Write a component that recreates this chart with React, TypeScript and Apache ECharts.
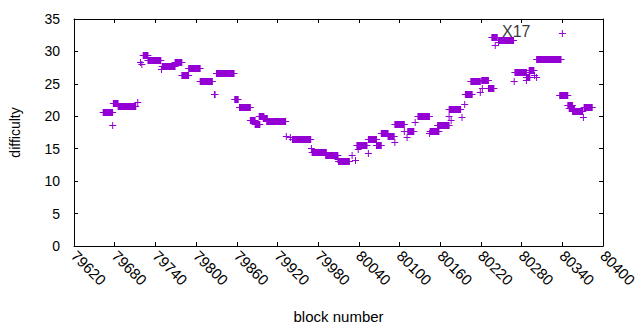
import React, { useEffect, useRef } from "react";
import * as echarts from "echarts";

// Runs of blocks sharing one difficulty value (single blocks have start == end)
const runStart = [
  79663, 79677, 79678, 79685, 79714, 79718, 79720, 79722, 79729, 79749,
  79750, 79769, 79779, 79789, 79806, 79827, 79830, 79857, 79864, 79880,
  79887, 79893, 79899, 79904, 79933, 79939, 79942, 79970, 79971, 79991,
  80009, 80010, 80030, 80035, 80037, 80039, 80054, 80054, 80066, 80073,
  80083, 80093, 80093, 80107, 80111, 80112, 80123, 80127, 80144, 80145,
  80156, 80173, 80176, 80173, 80192, 80196, 80197, 80205, 80219, 80222,
  80221, 80231, 80236, 80241, 80246, 80246, 80269, 80270, 80287, 80287,
  80291, 80299, 80302, 80302, 80340, 80336, 80348, 80350, 80355, 80371,
  80372,
];
const runEnd = [
  79677, 79677, 79685, 79711, 79714, 79718, 79720, 79729, 79748, 79749,
  79769, 79779, 79789, 79806, 79824, 79828, 79856, 79862, 79880, 79887,
  79894, 79900, 79905, 79932, 79933, 79939, 79969, 79970, 79992, 80009,
  80009, 80026, 80030, 80035, 80052, 80039, 80054, 80066, 80073, 80083,
  80092, 80093, 80107, 80107, 80111, 80121, 80123, 80144, 80144, 80158,
  80173, 80173, 80176, 80190, 80192, 80196, 80207, 80219, 80219, 80222,
  80231, 80239, 80244, 80241, 80246, 80268, 80269, 80287, 80287, 80292,
  80298, 80299, 80302, 80338, 80340, 80348, 80355, 80358, 80370, 80371,
  80384,
];
const runDifficulty = [
  20.7, 18.6, 22.1, 21.6, 22.2, 28.4, 28.0, 29.4, 28.7, 27.3,
  27.7, 28.3, 26.3, 27.4, 25.45, 23.5, 26.6, 22.6, 21.4, 19.5,
  18.85, 20.1, 19.7, 19.2, 17.0, 16.8, 16.5, 15.1, 14.5, 14.05,
  13.4, 13.1, 14.05, 13.3, 15.5, 15.0, 14.35, 16.5, 15.5, 17.45,
  17.0, 16.1, 18.85, 17.8, 16.8, 17.8, 19.1, 20.1, 17.45, 17.8,
  18.7, 20.1, 19.5, 21.2, 19.9, 21.9, 23.5, 25.5, 23.7, 24.3,
  25.65, 24.3, 32.2, 31.0, 31.5, 31.7, 25.4, 26.85, 25.65, 26.0,
  27.15, 26.3, 26.1, 28.9, 32.9, 23.35, 21.8, 21.3, 20.85, 19.9,
  21.4,
];

const labelText = ["X17"];
const labelPos = [[80251, 33]];

const xMin = 79620;
const xMax = 80400;
const xStep = 60;
const yMin = 0;
const yMax = 35;
const yStep = 5;

const COLOR = "#9400D3";
const FONT = "'Liberation Sans', Arial, sans-serif";

export default function App() {
  const ref = useRef<HTMLDivElement>(null);
  useEffect(() => {
    if (!ref.current) return;
    const chart = echarts.init(ref.current, undefined, { renderer: "svg" });
    const data = runStart.map((s, i) => [s, runEnd[i], runDifficulty[i]]);
    const axisLine = { show: true, onZero: false, lineStyle: { color: "#000", width: 1 } };
    const tick = { show: true, inside: true, length: 4, lineStyle: { color: "#000", width: 1 } };
    const option: any = {
      animation: false,
      backgroundColor: "#fff",
      grid: { left: 74, right: 31, top: 19, bottom: 84, containLabel: false },
      xAxis: [
        {
          type: "value",
          min: xMin,
          max: xMax,
          interval: xStep,
          position: "bottom",
          axisLine,
          axisTick: tick,
          splitLine: { show: false },
          axisLabel: {
            rotate: -45,
            margin: 7,
            color: "#000",
            fontFamily: FONT,
            fontSize: 15,
            formatter: (v: number) => String(v),
          },
          name: "block number",
          nameLocation: "middle",
          nameGap: 63,
          nameTextStyle: { color: "#000", fontFamily: FONT, fontSize: 15 },
        },
        {
          type: "value",
          min: xMin,
          max: xMax,
          interval: xStep,
          position: "top",
          axisLine,
          axisTick: tick,
          splitLine: { show: false },
          axisLabel: { show: false },
        },
      ],
      yAxis: [
        {
          type: "value",
          min: yMin,
          max: yMax,
          interval: yStep,
          position: "left",
          axisLine,
          axisTick: tick,
          splitLine: { show: false },
          axisLabel: { margin: 14, color: "#000", fontFamily: FONT, fontSize: 14 },
          name: "difficulty",
          nameLocation: "middle",
          nameGap: 52,
          nameRotate: 90,
          nameTextStyle: { color: "#000", fontFamily: FONT, fontSize: 14 },
        },
        {
          type: "value",
          min: yMin,
          max: yMax,
          interval: yStep,
          position: "right",
          axisLine,
          axisTick: tick,
          splitLine: { show: false },
          axisLabel: { show: false },
        },
      ],
      series: [
        {
          type: "custom",
          coordinateSystem: "cartesian2d",
          xAxisIndex: 0,
          yAxisIndex: 0,
          encode: { x: [0, 1], y: 2 },
          data,
          renderItem: (params: any, api: any) => {
            const s = api.value(0);
            const e = api.value(1);
            const v = api.value(2);
            const p1 = api.coord([s, v]);
            const p2 = api.coord([e, v]);
            const h = 7;
            const arm = 3.5;
            const y = Math.round(p1[1]) + 0.5;
            return {
              type: "group",
              children: [
                {
                  type: "rect",
                  shape: { x: p1[0] - 0.5, y: y - h / 2, width: p2[0] - p1[0] + 1, height: h },
                  style: { fill: COLOR },
                },
                {
                  type: "line",
                  shape: { x1: p1[0] - arm, y1: y, x2: p2[0] + arm, y2: y },
                  style: { stroke: COLOR, lineWidth: 1 },
                },
              ],
            };
          },
        },
        {
          type: "scatter",
          xAxisIndex: 0,
          yAxisIndex: 0,
          symbolSize: 0,
          data: labelPos.map((p, i) => ({ value: p, name: labelText[i] })),
          label: {
            show: true,
            position: "right",
            distance: 0,
            formatter: (p: any) => p.name,
            color: "#000",
            fontFamily: FONT,
            fontSize: 16,
          },
        },
      ],
    };
    chart.setOption(option);
    return () => chart.dispose();
  }, []);
  return (
    <div
      ref={ref}
      style={{ position: "fixed", left: 0, top: 0, width: 640, height: 330, background: "#fff" }}
    />
  );
}
